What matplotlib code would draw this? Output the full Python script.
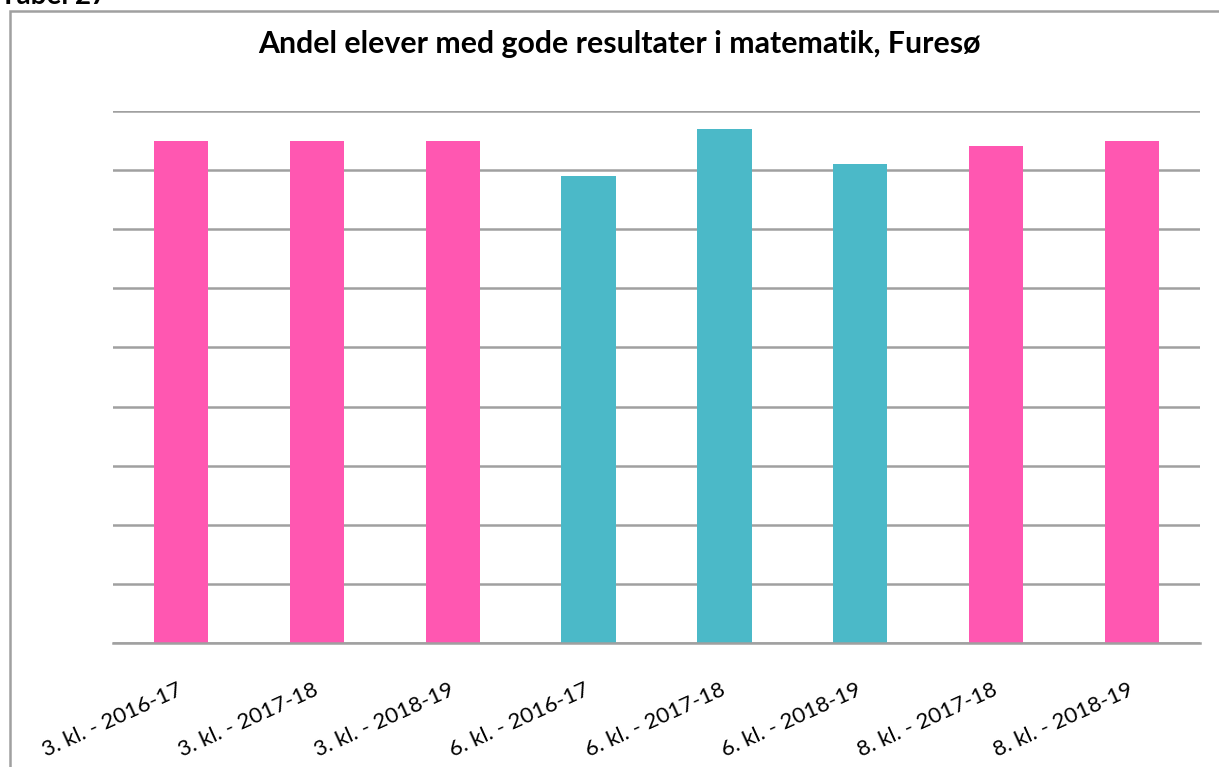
import matplotlib
matplotlib.use("Agg")
import matplotlib.pyplot as plt
from matplotlib.patches import Rectangle

categories = ["3. kl. - 2016-17", "3. kl. - 2017-18", "3. kl. - 2018-19",
              "6. kl. - 2016-17", "6. kl. - 2017-18", "6. kl. - 2018-19",
              "8. kl. - 2017-18", "8. kl. - 2018-19"]
values = [85, 85, 85, 79, 87, 81, 84, 85]
grades = ["3", "3", "3", "6", "6", "6", "8", "8"]
grade_colors = {"3": "#FF57B1", "6": "#4BB9C8", "8": "#FF57B1"}
yticks = [0, 10, 20, 30, 40, 50, 60, 70, 80, 90]

plt.rcParams['font.family'] = ['Lato', 'DejaVu Sans']

W, H = 1219, 767
fig = plt.figure(figsize=(W / 100, H / 100), dpi=100)
ax = fig.add_axes([113 / W, 1 - 643 / H, (1200 - 113) / W, (643 - 111) / H])

colors = [grade_colors[g] for g in grades]
x = list(range(len(categories)))
ax.bar(x, values, width=0.40, color=colors, zorder=3)
ax.set_xlim(-0.5, len(categories) - 0.5)
ax.set_ylim(0, 90)
ax.set_yticks(yticks)
ax.yaxis.grid(True, color="#A0A0A0", linewidth=1.8, zorder=0)
ax.tick_params(axis='y', left=False, labelleft=False)
ax.tick_params(axis='x', length=0, pad=33)
ax.set_xticks(x)
ax.set_xticklabels(categories, rotation=24.5, ha='right', va='center',
                   rotation_mode='anchor', fontsize=16, color='black')
for s in ["top", "right", "left"]:
    ax.spines[s].set_visible(False)
ax.spines["bottom"].set_color("#A0A0A0")
ax.spines["bottom"].set_linewidth(1.8)
ax.spines["bottom"].set_zorder(4)

fig.text(619 / W, 1 - 53 / H, "Andel elever med gode resultater i matematik, Furesø",
         ha='center', va='baseline', fontsize=21.8, fontweight='bold')
fig.text(0 / W, 1 - 4 / H, "Tabel 27", ha='left', va='baseline',
         fontsize=20, fontweight='bold')

frame = Rectangle((10 / W, -0.1), 1.2, 1 - 11 / H + 0.1, transform=fig.transFigure,
                  fill=False, edgecolor="#A0A0A0", linewidth=1.8)
fig.patches.append(frame)

fig.savefig("out.png", dpi=100)
